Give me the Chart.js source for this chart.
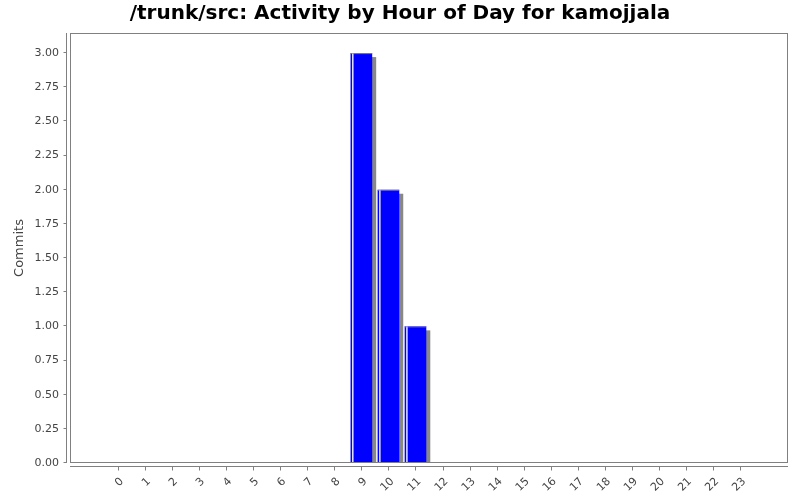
<!DOCTYPE html>
<html>
<head>
<meta charset="utf-8">
<script src="https://cdn.jsdelivr.net/npm/chart.js@4.4.1/dist/chart.umd.min.js"></script>
<style>
  html, body { margin: 0; padding: 0; background: #fff; }
  #wrap { width: 800px; height: 500px; }
</style>
</head>
<body>
<div id="wrap"><canvas id="activityChart"></canvas></div>
<script>
// data
const hours = [0,1,2,3,4,5,6,7,8,9,10,11,12,13,14,15,16,17,18,19,20,21,22,23];
const commits = [0,0,0,0,0,0,0,0,0,3,2,1,0,0,0,0,0,0,0,0,0,0,0,0];
const yTicks = [0,0.25,0.5,0.75,1,1.25,1.5,1.75,2,2.25,2.5,2.75,3];

const AXIS_GRAY = '#808080';
const LABEL_COLOR = '#444444';

// gray drop shadow behind each bar, jfreechart style
const barShadow = {
    id: 'barShadow',
    afterLayout(chart) {
        // centre the title on the whole canvas, not on the padded area
        if (chart.titleBlock) {
            chart.titleBlock.left = 0;
            chart.titleBlock.right = chart.width;
        }
    },
    beforeDatasetsDraw(chart) {
        const ctx = chart.ctx;
        const area = chart.chartArea;
        ctx.save();
        ctx.beginPath();
        ctx.rect(area.left, area.top, area.right - area.left, area.bottom - area.top);
        ctx.clip();
        ctx.fillStyle = '#888888';
        chart.getDatasetMeta(0).data.forEach(bar => {
            const h = bar.base - bar.y;
            if (h <= 0) return;
            const w = bar.width;
            ctx.fillRect(bar.x - w / 2 + 4, bar.y + 4, w, h);
        });
        ctx.restore();
    },
    afterDatasetsDraw(chart) {
        // thin white highlight near the left edge of each bar
        const ctx = chart.ctx;
        ctx.save();
        chart.getDatasetMeta(0).data.forEach(bar => {
            const h = bar.base - bar.y;
            if (h <= 0) return;
            const left = bar.x - bar.width / 2;
            ctx.fillStyle = 'rgba(255,255,255,0.9)';
            ctx.fillRect(left + 1.5, bar.y, 1.5, h);
            ctx.fillStyle = 'rgba(140,140,255,0.8)';
            ctx.fillRect(left, bar.y, bar.width, 1);
        });
        ctx.restore();
    }
};

// plot box plus the offset axis lines and tick marks
const axesFrame = {
    id: 'axesFrame',
    afterDraw(chart) {
        const ctx = chart.ctx;
        const a = chart.chartArea;
        const x = chart.scales.x, y = chart.scales.y;
        ctx.save();
        ctx.strokeStyle = AXIS_GRAY;
        ctx.lineWidth = 1;
        ctx.strokeRect(Math.round(a.left) + 0.5, Math.round(a.top) + 0.5,
                       Math.round(a.right - a.left) - 1, Math.round(a.bottom - a.top) - 1);
        // y axis line
        const yx = Math.round(a.left) - 3.5;
        ctx.beginPath();
        ctx.moveTo(yx, a.top);
        ctx.lineTo(yx, a.bottom);
        y.ticks.forEach(t => {
            const py = Math.round(y.getPixelForValue(t.value)) - 0.5;
            ctx.moveTo(yx - 3, py);
            ctx.lineTo(yx, py);
        });
        // x axis line
        const xy = Math.round(a.bottom) + 3.5;
        ctx.moveTo(a.left, xy);
        ctx.lineTo(a.right, xy);
        x.ticks.forEach(t => {
            const px = Math.round(x.getPixelForValue(t.value)) + 0.5;
            ctx.moveTo(px, xy);
            ctx.lineTo(px, xy + 4);
        });
        ctx.stroke();
        ctx.restore();
    }
};

const ctx = document.getElementById('activityChart').getContext('2d');
new Chart(ctx, {
    type: 'bar',
    data: {
        datasets: [{
            label: 'Commits',
            data: hours.map((h, i) => ({ x: h, y: commits[i] })),
            backgroundColor: '#0000ff',
            borderWidth: 0,
            categoryPercentage: 0.8,
            barPercentage: 1.0
        }]
    },
    options: {
        responsive: true,
        maintainAspectRatio: false,
        animation: false,
        layout: { padding: { left: 0, right: 12, top: 0, bottom: 0 } },
        scales: {
            x: {
                type: 'linear',
                offset: false,
                min: -1.77,
                max: 24.77,
                grid: { display: false, drawTicks: false },
                border: { display: false },
                afterBuildTicks: scale => { scale.ticks = hours.map(h => ({ value: h })); },
                afterFit: scale => { scale.height = 37; },
                ticks: {
                    autoSkip: false,
                    minRotation: 45,
                    maxRotation: 45,
                    padding: 12,
                    labelOffset: 4,
                    color: LABEL_COLOR,
                    font: { family: 'DejaVu Sans', size: 11 },
                    callback: v => String(v)
                }
            },
            y: {
                min: 0,
                max: 3.147,
                grid: { display: false, drawTicks: false },
                border: { display: false },
                afterBuildTicks: scale => { scale.ticks = yTicks.map(v => ({ value: v })); },
                afterFit: scale => { scale.width = 70; },
                title: {
                    display: true,
                    text: 'Commits',
                    color: LABEL_COLOR,
                    font: { family: 'DejaVu Sans', size: 13 },
                    padding: { top: 12, bottom: 0 }
                },
                ticks: {
                    padding: 11,
                    color: LABEL_COLOR,
                    font: { family: 'DejaVu Sans', size: 11 },
                    callback: v => Number(v).toFixed(2)
                }
            }
        },
        plugins: {
            legend: { display: false },
            tooltip: { enabled: false },
            title: {
                display: true,
                text: '/trunk/src: Activity by Hour of Day for kamojjala',
                color: '#000000',
                font: { family: 'DejaVu Sans', size: 20, weight: 'bold' },
                padding: { top: 2, bottom: 7 }
            }
        }
    },
    plugins: [barShadow, axesFrame]
});
</script>
</body>
</html>
